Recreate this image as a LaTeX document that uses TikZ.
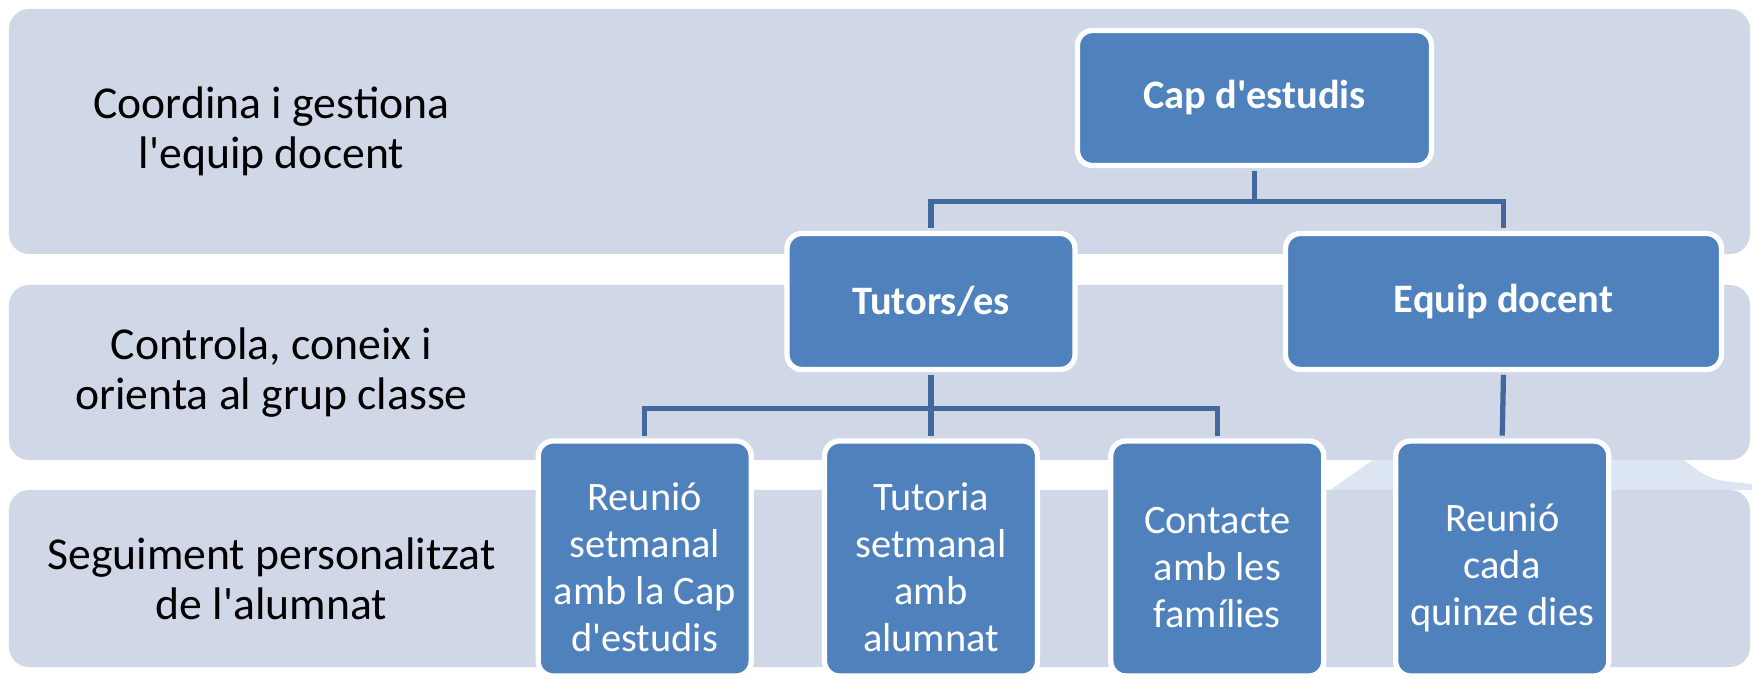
\documentclass[tikz,border=0pt]{standalone}
\usepackage{fontspec}
\setmainfont{Carlito}
\usetikzlibrary{positioning}
\definecolor{bandfill}{HTML}{D0D8E8}
\definecolor{boxfill}{HTML}{4F81BD}
\definecolor{linkcol}{HTML}{41699B}
\definecolor{glow}{HTML}{DCE6F2}
\newcommand{\ap}{\textquotesingle}
\tikzset{
	band/.style={fill=bandfill, rounded corners=0.2cm},
	bandtext/.style={font=\fontsize{13}{14.2}\selectfont, align=center, text=black},
	orgbox/.style={draw=white, line width=1.5pt, fill=boxfill, rounded corners=0.15cm, text=white, align=center, inner sep=0pt, font=\fontsize{11.5}{13.4}\selectfont},
	headbox/.style={orgbox, font=\fontsize{11.5}{13.4}\selectfont\bfseries},
	boxtext/.style={text=white, align=center, inner sep=0pt, font=\fontsize{11.5}{13.4}\selectfont},
	link/.style={draw=linkcol, line width=1.5pt, shorten <=0.8pt, shorten >=0.8pt},
}
\begin{document}
\begin{tikzpicture}
		\useasboundingbox (0,0) rectangle (17.52,-6.79);
		% bands
		\fill[band] (0.09,-0.09) rectangle (17.50,-2.54);
		\fill[band] (0.09,-2.85) rectangle (17.50,-4.60);
		\fill[band] (0.09,-4.90) rectangle (17.50,-6.67);
		\fill[glow] (13.30,-4.90) -- (13.73,-4.60) -- (16.84,-4.60) .. controls (17.10,-4.80) .. (17.52,-4.84) -- (17.52,-4.90) -- cycle;
		\node[bandtext] (coord) at (2.715,-1.31) {Coordina i gestiona\\l\ap equip docent};
		\node[bandtext] (contr) at (2.715,-3.725) {Controla, coneix i\\orienta al grup classe};
		\node[bandtext] (segui) at (2.715,-5.785) {Seguiment personalitzat\\de l\ap alumnat};
		% boxes
		\node[headbox, minimum width=3.54cm, minimum height=1.35cm] (cap) at (12.545,-0.98) {Cap d\ap estudis};
		\node[headbox, minimum width=2.88cm, minimum height=1.36cm] (tut) at (9.31,-3.015) {Tutors/es};
		\node[headbox, minimum width=4.36cm, minimum height=1.36cm] (eq) at (15.035,-3.015) {Equip docent};
		\foreach \n/\x/\t in {ra/6.447/{Reunió\\setmanal\\amb la Cap\\d\ap estudis}, rb/9.31/{Tutoria\\setmanal\\amb\\alumnat}, rc/12.173/{Contacte\\amb les\\famílies}, rd/15.022/{Reunió\\cada\\quinze dies}}
			{
				\node[orgbox, minimum width=2.13cm, minimum height=2.35cm] (\n) at (\x,-5.585) {};
				\node[boxtext] (\n t) at ([yshift=-0.09cm]\n.center) {\t};
			}
		% connectors
		\coordinate (capfork) at ([yshift=-3.35mm]cap.south);
		\coordinate (tutfork) at ([yshift=-3.65mm]tut.south);
		\draw[link] (cap.south) -- (capfork);
		\draw[link] (tut.north) |- (capfork) -| (eq.north);
		\draw[link] (tut.south) -- (tutfork);
		\draw[link] (ra.north) |- (tutfork) -| (rc.north);
		\draw[link] (tutfork) -- (rb.north);
		\draw[link] (eq.south) -- (rd.north);
\end{tikzpicture}
\end{document}
